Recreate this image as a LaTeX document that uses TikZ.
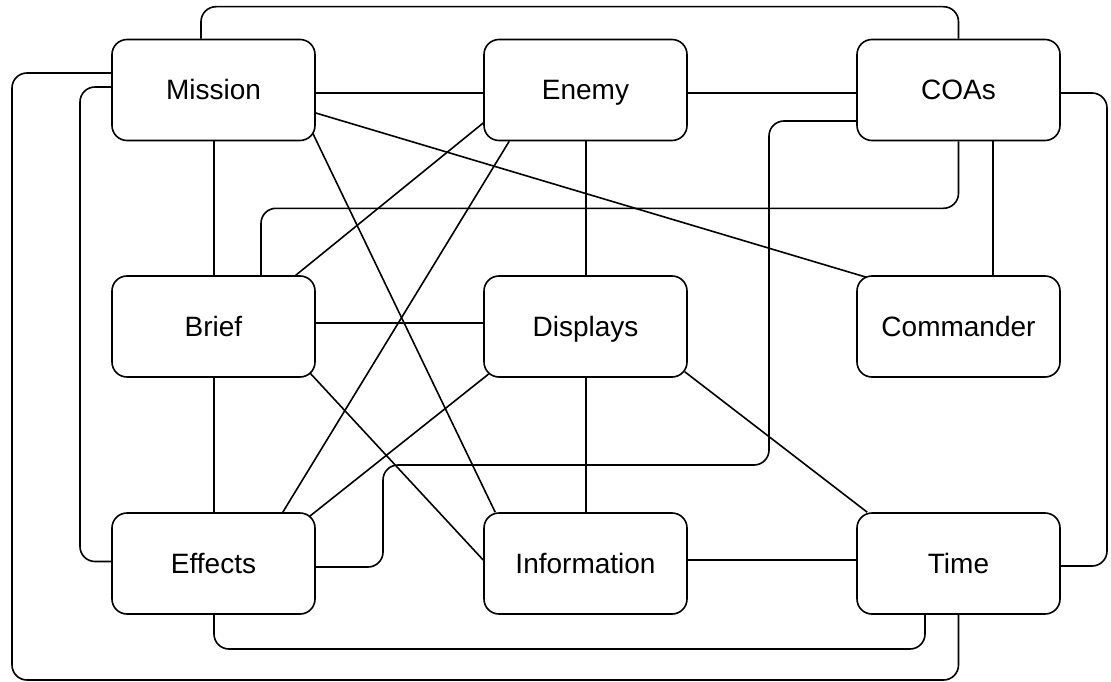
\documentclass[tikz,border=0pt]{standalone}
\usepackage{fontspec}
\setmainfont{Liberation Sans}
\pgfdeclarelayer{bg}
\pgfsetlayers{bg,main}
\begin{document}
\begin{tikzpicture}[x=1pt,y=-1pt,
  box/.style={draw, line width=1.6pt, rounded corners=15pt, fill=white,
    minimum width=203pt, minimum height=101pt, inner sep=0pt,
    text height=20pt, text depth=0pt, font=\fontsize{28}{32}\selectfont},
  conn/.style={line width=1.6pt, rounded corners=15pt}]
\useasboundingbox (0,0) rectangle (1111,682);

\node[box] (mission) at (213.5,90) {Mission};
\node[box] (enemy) at (585.5,90) {Enemy};
\node[box] (coas) at (958.5,90) {COAs};
\node[box] (brief) at (213.5,326.5) {Brief};
\node[box] (displays) at (585.5,326.5) {Displays};
\node[box] (commander) at (958.5,326.5) {Commander};
\node[box] (effects) at (213.5,563.5) {Effects};
\node[box] (information) at (585.5,563.5) {Information};
\node[box] (time) at (958.5,563.5) {Time};

\begin{pgfonlayer}{bg}
% Mission -- COAs over the top
\draw[conn] ([xshift=-12.5pt]mission.north) |- ([yshift=32pt]coas.north) -- (coas.north);
% Mission -- Time around the outside
\draw[conn] ([yshift=17pt]mission.west) -| (12,680) -| (time.south);
% Mission -- Effects on the left
\draw[conn] ([yshift=3pt]mission.west) -| (80,561.5) -- ([yshift=2pt]effects.west);
% Mission -- Enemy, Enemy -- COAs
\draw[conn] ([yshift=-3pt]mission.east) -- ([yshift=-3pt]enemy.west);
\draw[conn] ([yshift=-3pt]enemy.east) -- ([yshift=-3pt]coas.west);
% Mission -- Commander
\draw[conn] ([yshift=-23pt]mission.east) -- ([xshift=10pt,yshift=-2pt]commander.north west);
% Mission -- Information
\draw[conn] ([shift={(-3pt,8pt)}]mission.south east) -- ([xshift=12pt]information.north west);
% Mission -- Brief
\draw[conn] ([xshift=0.5pt]mission.south) -- ([xshift=0.5pt]brief.north);
% Brief -- COAs
\draw[conn] ([xshift=47.5pt]brief.north) |- ([yshift=-67pt]coas.south) -- (coas.south);
% Brief -- Enemy
\draw[conn] ([xshift=-20pt]brief.north east) -- ([yshift=-33pt]enemy.west);
% Effects -- Enemy
\draw[conn] ([xshift=-33pt]effects.north east) -- ([xshift=26pt]enemy.south west);
% Effects -- Displays
\draw[conn] ([shift={(-6pt,-4pt)}]effects.north east) -- ([shift={(7pt,5pt)}]displays.south west);
% Brief -- Information
\draw[conn] ([shift={(-6pt,5pt)}]brief.south east) -- ([yshift=3.5pt]information.west);
% Brief -- Displays
\draw[conn] ([yshift=3.5pt]brief.east) -- ([yshift=3.5pt]displays.west);
% COAs -- Effects
\draw[conn] ([yshift=-31pt]coas.west) -| (769,465) -| (383,567) -- ([yshift=-3.5pt]effects.east);
% COAs -- Time on the right
\draw[conn] ([yshift=-3pt]coas.east) -| (1107,566) -- ([yshift=-2.5pt]time.east);
% COAs -- Commander
\draw[conn] ([xshift=34.5pt]coas.south) -- ([xshift=34.5pt]commander.north);
% Effects -- Time along the bottom
\draw[conn] ([xshift=0.5pt]effects.south) |- (925,649) -- ([xshift=-33.5pt]time.south);
% Brief -- Effects
\draw[conn] ([xshift=0.5pt]brief.south) -- ([xshift=0.5pt]effects.north);
% Enemy -- Displays -- Information
\draw[conn] ([xshift=0.5pt]enemy.south) -- ([xshift=0.5pt]displays.north);
\draw[conn] ([xshift=0.5pt]displays.south) -- ([xshift=0.5pt]information.north);
% Displays -- Time
\draw[conn] ([shift={(-3pt,6pt)}]displays.south east) -- ([xshift=11pt]time.north west);
% Information -- Time
\draw[conn] ([yshift=3.5pt]information.east) -- ([yshift=3.5pt]time.west);
\end{pgfonlayer}
\end{tikzpicture}
\end{document}
